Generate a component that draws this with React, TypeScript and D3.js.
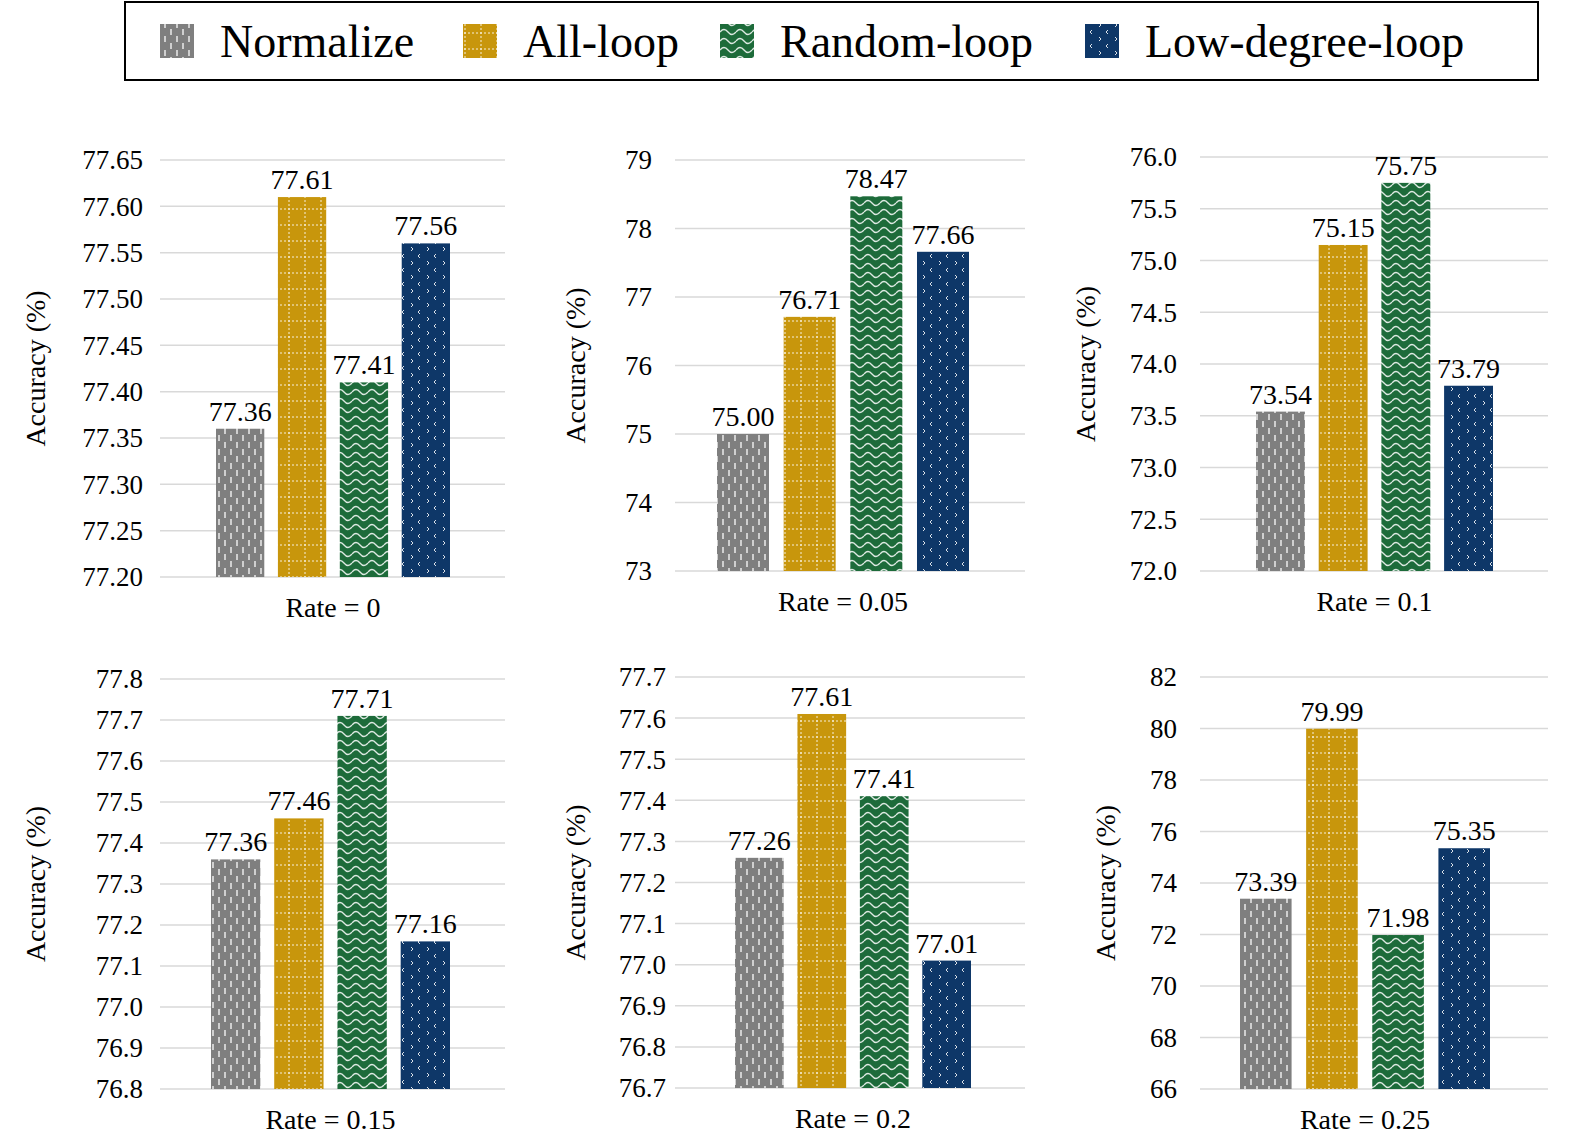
import React from "react";
import * as d3 from "d3";

const seriesNames = ["Normalize", "All-loop", "Random-loop", "Low-degree-loop"];
const colors = ["#7f7f7f", "#c8960c", "#1d6b3a", "#0e3768"];
const rates = ["Rate = 0", "Rate = 0.05", "Rate = 0.1", "Rate = 0.15", "Rate = 0.2", "Rate = 0.25"];
const values = [
  [77.36, 77.61, 77.41, 77.56],
  [75.0, 76.71, 78.47, 77.66],
  [73.54, 75.15, 75.75, 73.79],
  [77.36, 77.46, 77.71, 77.16],
  [77.26, 77.61, 77.41, 77.01],
  [73.39, 79.99, 71.98, 75.35],
];
const yDomains = [[77.2, 77.65], [73, 79], [72, 76], [76.8, 77.8], [76.7, 77.7], [66, 82]];
const yTickSteps = [0.05, 1, 0.5, 0.1, 0.1, 2];
const yTickDecimals = [2, 0, 1, 1, 1, 0];

// layout (pixels)
const panels = [
  { l: 160, r: 505, t: 160, b: 577, bx0: 216, bx1: 450, tx: 143, ax: 35 },
  { l: 675, r: 1025, t: 160, b: 571, bx0: 717, bx1: 969, tx: 652, ax: 575 },
  { l: 1200, r: 1548, t: 157, b: 571, bx0: 1256, bx1: 1493, tx: 1177, ax: 1085 },
  { l: 160, r: 505, t: 679, b: 1089, bx0: 211, bx1: 450, tx: 143, ax: 35 },
  { l: 675, r: 1025, t: 677, b: 1088, bx0: 735, bx1: 971, tx: 666, ax: 575 },
  { l: 1200, r: 1548, t: 677, b: 1089, bx0: 1240, bx1: 1490, tx: 1177, ax: 1105 },
];
const font = "'Liberation Serif', 'Times New Roman', serif";

function Patterns() {
  return (
    <defs>
      <pattern id="p0" width="12" height="14" patternUnits="userSpaceOnUse">
        <rect width="12" height="14" fill={colors[0]} />
        <line x1="3" y1="1" x2="3" y2="7" stroke="#fff" strokeWidth="1.5" opacity="0.85" />
        <line x1="9" y1="8" x2="9" y2="14" stroke="#fff" strokeWidth="1.5" opacity="0.85" />
      </pattern>
      <pattern id="p1" width="16" height="16" patternUnits="userSpaceOnUse">
        <rect width="16" height="16" fill={colors[1]} />
        <line x1="0" y1="1" x2="16" y2="1" stroke="#fff" strokeWidth="1" strokeDasharray="2,2" opacity="0.85" />
        <line x1="1" y1="0" x2="1" y2="16" stroke="#fff" strokeWidth="1" strokeDasharray="2,2" opacity="0.85" />
      </pattern>
      <pattern id="p2" width="16" height="9" patternUnits="userSpaceOnUse">
        <rect width="16" height="9" fill={colors[2]} />
        <path d="M0,5 Q4,0 8,5 T16,5" fill="none" stroke="#fff" strokeWidth="1.3" opacity="0.85" />
      </pattern>
      <pattern id="p3" width="16" height="14" patternUnits="userSpaceOnUse">
        <rect width="16" height="14" fill={colors[3]} />
        <path d="M4,2 L2,4 L4,6" fill="none" stroke="#fff" strokeWidth="1" opacity="0.85" />
        <path d="M11,9 L13,11 L11,13" fill="none" stroke="#fff" strokeWidth="1" opacity="0.85" />
      </pattern>
    </defs>
  );
}

function Panel({ i }: { i: number }) {
  const p = panels[i];
  const [d0, d1] = yDomains[i];
  const y = d3.scaleLinear().domain([d0, d1]).range([p.b, p.t]);
  const step = yTickSteps[i];
  const n = Math.round((d1 - d0) / step);
  const ticks = d3.range(n + 1).map((k) => d0 + k * step);
  const x = d3.scaleBand<number>().domain([0, 1, 2, 3]).range([p.bx0, p.bx1]).paddingInner(0.22).paddingOuter(0);
  const fmt = d3.format(`.${yTickDecimals[i]}f`);
  return (
    <g>
      {ticks.map((t) => (
        <g key={t}>
          <line x1={p.l} x2={p.r} y1={y(t)} y2={y(t)} stroke="#d9d9d9" strokeWidth={1.5} />
          <text x={p.tx} y={y(t)} dy="0.35em" textAnchor="end" fontSize={27} fontFamily={font}>{fmt(t)}</text>
        </g>
      ))}
      {values[i].map((v, j) => (
        <g key={j}>
          <rect x={x(j)} width={x.bandwidth()} y={y(v)} height={p.b - y(v)} fill={`url(#p${j})`} />
          <text x={(x(j) as number) + x.bandwidth() / 2} y={y(v) - 8} textAnchor="middle" fontSize={28} fontFamily={font}>{v.toFixed(2)}</text>
        </g>
      ))}
      <text x={(p.bx0 + p.bx1) / 2} y={p.b + 40} textAnchor="middle" fontSize={28} fontFamily={font}>{rates[i]}</text>
      <text transform={`translate(${p.ax},${(p.t + p.b) / 2}) rotate(-90)`} dy="0.35em" textAnchor="middle" fontSize={28} fontFamily={font}>Accuracy (%)</text>
    </g>
  );
}

const legendX = [160, 463, 720, 1085];

export default function App() {
  return (
    <svg width={1575} height={1143} style={{ display: "block", position: "absolute", left: 0, top: 0, background: "#fff" }}>
      <Patterns />
      <rect x={125} y={2} width={1413} height={78} fill="none" stroke="#000" strokeWidth={2} />
      {seriesNames.map((s, j) => (
        <g key={s}>
          <rect x={legendX[j]} y={24} width={34} height={34} fill={`url(#p${j})`} />
          <text x={legendX[j] + 60} y={41} dy="0.35em" fontSize={46} fontFamily={font}>{s}</text>
        </g>
      ))}
      {panels.map((_, i) => <Panel key={i} i={i} />)}
    </svg>
  );
}
